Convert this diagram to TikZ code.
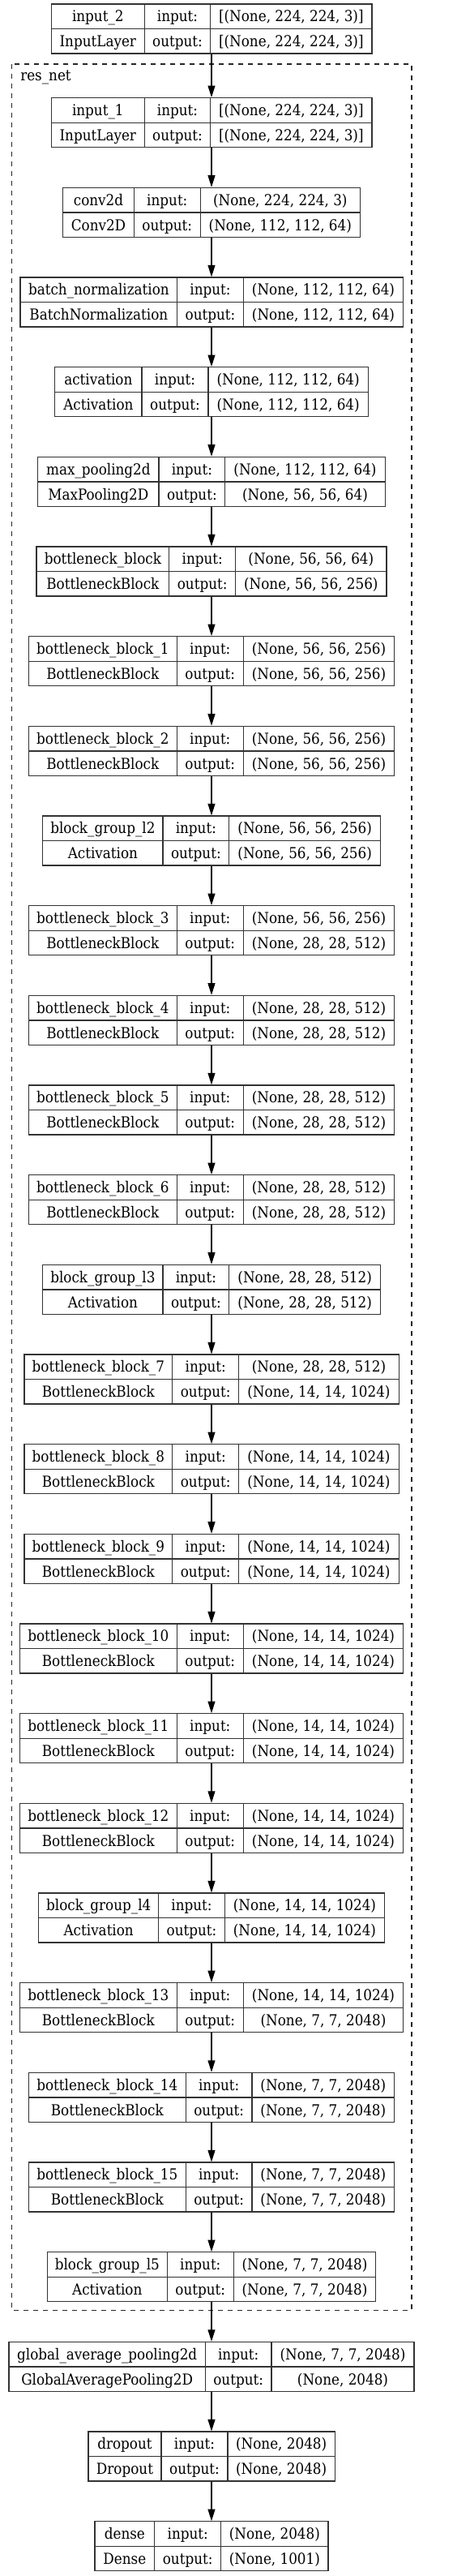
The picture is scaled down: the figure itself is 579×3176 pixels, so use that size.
\documentclass[tikz,border=0pt]{standalone}
\usepackage{fontspec}
\setmainfont{DejaVu Serif Condensed}
\usetikzlibrary{arrows.meta}
\tikzset{
  box/.style={draw=black!80, line width=1pt, rectangle, inner sep=0pt, fill=white},
  cellline/.style={draw=black!80, line width=1pt},
  txt/.style={anchor=base, inner sep=0pt, font=\fontsize{14}{16}\selectfont},
  arr/.style={draw=black, line width=0.8pt, -{Triangle[length=10.9pt,width=6.75pt]}},
  cluster/.style={draw=black!85, line width=0.9pt, dash pattern=on 4.5pt off 4.5pt}
}
\newcommand\lay[9]{\def\kid{#1}\def\kY{#2}\def\kL{#3}\def\kDa{#4}\def\kDb{#5}\def\kR{#6}\def\kname{#7}\def\ktype{#8}\def\kin{#9}\layfinish}
\newcommand\layfinish[1]{%
  \pgfmathsetmacro\kc{\kY+30.5}%
  \pgfmathsetmacro\kb{\kY+61}%
  \node[box, minimum width={(\kR-\kL)*0.75pt}, minimum height={61*0.75pt}] (\kid) at ({(\kL+\kR)/2},\kc) {};
  \draw[cellline] (\kL,\kc) -- (\kR,\kc) (\kDa,\kY) -- (\kDa,\kb) (\kDb,\kY) -- (\kDb,\kb);
  \node[txt] at ({(\kL+\kDa)/2},{\kY+21.8}) {\kname};
  \node[txt] at ({(\kL+\kDa)/2},{\kY+52.8}) {\ktype};
  \node[txt] at ({(\kDa+\kDb)/2},{\kY+21.8}) {input:};
  \node[txt] at ({(\kDa+\kDb)/2},{\kY+52.8}) {output:};
  \node[txt] at ({(\kDb+\kR)/2},{\kY+21.8}) {\kin};
  \node[txt] at ({(\kDb+\kR)/2},{\kY+52.8}) {#1};
}
\begin{document}
\begin{tikzpicture}[x=0.75pt,y=-0.75pt]
\fill[white] (0,0) rectangle (579,3176);
\useasboundingbox (0,0) rectangle (579,3176);
\draw[cluster] (14.3,79) rectangle (508,2848.3);
\node[txt, anchor=base west] (resnet) at (25,99.5) {res\_net};
\lay{input2}{5}{63.3}{178.3}{259.7}{459}{input\_2}{InputLayer}{[(None, 224, 224, 3)]}{[(None, 224, 224, 3)]}
\pgfmathsetmacro\ty{120.7+110.67*0}\lay{input1}{\ty}{63.3}{178.3}{259.7}{459}{input\_1}{InputLayer}{[(None, 224, 224, 3)]}{[(None, 224, 224, 3)]}
\pgfmathsetmacro\ty{120.7+110.67*1}\lay{conv}{\ty}{77.7}{165.3}{247.3}{444.3}{conv2d}{Conv2D}{(None, 224, 224, 3)}{(None, 112, 112, 64)}
\pgfmathsetmacro\ty{120.7+110.67*2}\lay{bn}{\ty}{25}{218.7}{300.3}{497.7}{batch\_normalization}{BatchNormalization}{(None, 112, 112, 64)}{(None, 112, 112, 64)}
\pgfmathsetmacro\ty{120.7+110.67*3}\lay{act}{\ty}{67.7}{175}{257}{454.3}{activation}{Activation}{(None, 112, 112, 64)}{(None, 112, 112, 64)}
\pgfmathsetmacro\ty{120.7+110.67*4}\lay{mp}{\ty}{46.7}{196}{277.7}{475.3}{max\_pooling2d}{MaxPooling2D}{(None, 112, 112, 64)}{(None, 56, 56, 64)}
\pgfmathsetmacro\ty{120.7+110.67*5}\lay{bb0}{\ty}{45}{208.7}{290.7}{477}{bottleneck\_block}{BottleneckBlock}{(None, 56, 56, 64)}{(None, 56, 56, 256)}
\pgfmathsetmacro\ty{120.7+110.67*6}\lay{bb1}{\ty}{35.3}{218.3}{300.3}{486.7}{bottleneck\_block\_1}{BottleneckBlock}{(None, 56, 56, 256)}{(None, 56, 56, 256)}
\pgfmathsetmacro\ty{120.7+110.67*7}\lay{bb2}{\ty}{35.3}{218.3}{300.3}{486.7}{bottleneck\_block\_2}{BottleneckBlock}{(None, 56, 56, 256)}{(None, 56, 56, 256)}
\pgfmathsetmacro\ty{120.7+110.67*8}\lay{bg2}{\ty}{52.7}{201}{282.7}{469.7}{block\_group\_l2}{Activation}{(None, 56, 56, 256)}{(None, 56, 56, 256)}
\pgfmathsetmacro\ty{120.7+110.67*9}\lay{bb3}{\ty}{35.3}{218.3}{300.3}{486.7}{bottleneck\_block\_3}{BottleneckBlock}{(None, 56, 56, 256)}{(None, 28, 28, 512)}
\pgfmathsetmacro\ty{120.7+110.67*10}\lay{bb4}{\ty}{35.3}{218.3}{300.3}{486.7}{bottleneck\_block\_4}{BottleneckBlock}{(None, 28, 28, 512)}{(None, 28, 28, 512)}
\pgfmathsetmacro\ty{120.7+110.67*11}\lay{bb5}{\ty}{35.3}{218.3}{300.3}{486.7}{bottleneck\_block\_5}{BottleneckBlock}{(None, 28, 28, 512)}{(None, 28, 28, 512)}
\pgfmathsetmacro\ty{120.7+110.67*12}\lay{bb6}{\ty}{35.3}{218.3}{300.3}{486.7}{bottleneck\_block\_6}{BottleneckBlock}{(None, 28, 28, 512)}{(None, 28, 28, 512)}
\pgfmathsetmacro\ty{120.7+110.67*13}\lay{bg3}{\ty}{52.7}{201}{282.7}{469.7}{block\_group\_l3}{Activation}{(None, 28, 28, 512)}{(None, 28, 28, 512)}
\pgfmathsetmacro\ty{120.7+110.67*14}\lay{bb7}{\ty}{30}{212.7}{294.7}{492.3}{bottleneck\_block\_7}{BottleneckBlock}{(None, 28, 28, 512)}{(None, 14, 14, 1024)}
\pgfmathsetmacro\ty{120.7+110.67*15}\lay{bb8}{\ty}{30}{212.7}{294.7}{492.3}{bottleneck\_block\_8}{BottleneckBlock}{(None, 14, 14, 1024)}{(None, 14, 14, 1024)}
\pgfmathsetmacro\ty{120.7+110.67*16}\lay{bb9}{\ty}{30}{212.7}{294.7}{492.3}{bottleneck\_block\_9}{BottleneckBlock}{(None, 14, 14, 1024)}{(None, 14, 14, 1024)}
\pgfmathsetmacro\ty{120.7+110.67*17}\lay{bb10}{\ty}{24.3}{218.3}{300.3}{497.7}{bottleneck\_block\_10}{BottleneckBlock}{(None, 14, 14, 1024)}{(None, 14, 14, 1024)}
\pgfmathsetmacro\ty{120.7+110.67*18}\lay{bb11}{\ty}{24.3}{218.3}{300.3}{497.7}{bottleneck\_block\_11}{BottleneckBlock}{(None, 14, 14, 1024)}{(None, 14, 14, 1024)}
\pgfmathsetmacro\ty{120.7+110.67*19}\lay{bb12}{\ty}{24.3}{218.3}{300.3}{497.7}{bottleneck\_block\_12}{BottleneckBlock}{(None, 14, 14, 1024)}{(None, 14, 14, 1024)}
\pgfmathsetmacro\ty{120.7+110.67*20}\lay{bg4}{\ty}{47.7}{195.7}{277.3}{474.7}{block\_group\_l4}{Activation}{(None, 14, 14, 1024)}{(None, 14, 14, 1024)}
\pgfmathsetmacro\ty{120.7+110.67*21}\lay{bb13}{\ty}{24.3}{218.3}{300.3}{497.7}{bottleneck\_block\_13}{BottleneckBlock}{(None, 14, 14, 1024)}{(None, 7, 7, 2048)}
\pgfmathsetmacro\ty{120.7+110.67*22}\lay{bb14}{\ty}{35.3}{229.3}{311}{486.7}{bottleneck\_block\_14}{BottleneckBlock}{(None, 7, 7, 2048)}{(None, 7, 7, 2048)}
\pgfmathsetmacro\ty{120.7+110.67*23}\lay{bb15}{\ty}{35.3}{229.3}{311}{486.7}{bottleneck\_block\_15}{BottleneckBlock}{(None, 7, 7, 2048)}{(None, 7, 7, 2048)}
\pgfmathsetmacro\ty{120.7+110.67*24}\lay{bg5}{\ty}{58.3}{206.3}{288.3}{463.7}{block\_group\_l5}{Activation}{(None, 7, 7, 2048)}{(None, 7, 7, 2048)}
\pgfmathsetmacro\ty{120.7+110.67*25}\lay{gap}{\ty}{11}{253.3}{335}{511}{global\_average\_pooling2d}{GlobalAveragePooling2D}{(None, 7, 7, 2048)}{(None, 2048)}
\pgfmathsetmacro\ty{120.7+110.67*26}\lay{drop}{\ty}{109}{199}{281}{413.3}{dropout}{Dropout}{(None, 2048)}{(None, 2048)}
\pgfmathsetmacro\ty{120.7+110.67*27}\lay{dense}{\ty}{117}{190.7}{272.7}{405}{dense}{Dense}{(None, 2048)}{(None, 1001)}
\foreach \a/\b in {input2/input1, input1/conv, conv/bn, bn/act, act/mp, mp/bb0, bb0/bb1, bb1/bb2, bb2/bg2, bg2/bb3, bb3/bb4, bb4/bb5, bb5/bb6, bb6/bg3, bg3/bb7, bb7/bb8, bb8/bb9, bb9/bb10, bb10/bb11, bb11/bb12, bb12/bg4, bg4/bb13, bb13/bb14, bb14/bb15, bb15/bg5, bg5/gap, gap/drop, drop/dense}
  \draw[arr] (261,0 |- \a.south) -- (261,0 |- \b.north);
\end{tikzpicture}
\end{document}
